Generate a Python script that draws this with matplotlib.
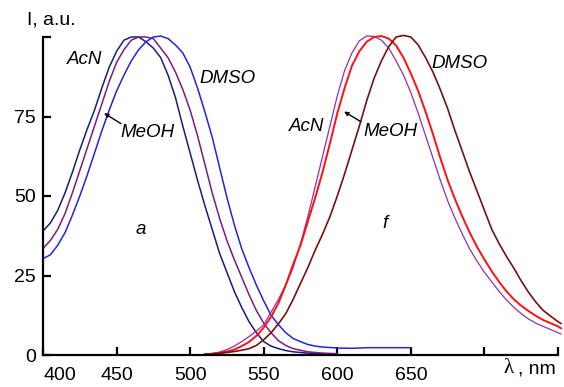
import matplotlib
matplotlib.use("Agg")
import matplotlib.pyplot as plt

# absorption (left group), 400-600 nm (DMSO extends to 650)
wl_abs = [400, 405, 410, 415, 420, 425, 430, 435, 440, 445, 450, 455, 460, 465,
          470, 475, 480, 485, 490, 495, 500, 505, 510, 515, 520, 525, 530, 535,
          540, 545, 550, 555, 560, 565, 570, 580, 590, 600]
abs_acn = [39, 41.5, 45.5, 51, 57.5, 64.5, 71, 77, 84, 90.5, 95.5, 99, 100, 100,
           98.5, 96.5, 93.5, 88, 81, 72, 63.5, 55, 47, 39.5, 32, 26, 20, 15,
           10.5, 7, 4.2, 2.8, 2, 1.4, 1, 0.6, 0.4, 0.3]
abs_meoh = [33.5, 36, 39.5, 44.5, 51, 58, 65, 72, 79, 86, 92, 96, 99, 100,
            100, 99.5, 96.5, 93.5, 89, 83.5, 77, 69, 60, 51, 43, 36, 30, 24.5,
            19, 14, 10, 7, 4.5, 3, 2, 1, 0.6, 0.4]
wl_abs_dmso = [400, 405, 410, 415, 420, 425, 430, 435, 440, 445, 450, 455, 460,
               465, 470, 475, 480, 485, 490, 495, 500, 505, 510, 515, 520, 525,
               530, 535, 540, 545, 550, 555, 560, 565, 570, 575, 580, 585, 590,
               600, 610, 620, 630, 640, 650]
abs_dmso = [30.3, 31.5, 34.5, 38.5, 44, 50, 56.5, 63.5, 70.5, 77, 83, 88, 92.5,
            96, 98.5, 100, 100.3, 99.5, 97.5, 95, 90.5, 84, 76.5, 68.5, 59, 49.5,
            41, 33.5, 27.5, 22, 17, 12.5, 9.5, 7, 5.2, 4.2, 3.3, 2.8, 2.5,
            2.2, 2.1, 2.3, 2.3, 2.3, 2.3]

# fluorescence (right group), 510-752 nm
wl_fl = [510, 515, 520, 525, 530, 535, 540, 545, 550, 555, 560, 565, 570, 575,
         580, 585, 590, 595, 600, 605, 610, 615, 620, 625, 630, 635, 640, 645,
         650, 655, 660, 665, 670, 675, 680, 685, 690, 695, 700, 705, 710, 715,
         720, 725, 730, 735, 740, 745, 750, 752]
fl_acn = [0.3, 0.5, 0.9, 1.7, 2.8, 4.2, 5.8, 7.5, 9.5, 13.5, 17.5, 22, 27.5, 35,
          43.5, 53, 62.5, 72, 81.5, 89.5, 95, 98.8, 100.3, 100.2, 99, 96.5, 92.5, 88,
          82.5, 76, 69, 62, 55, 48.5, 43, 38, 33.3, 29.5, 26, 23, 20, 17.3,
          15, 13, 11.3, 10, 9, 8, 7, 6.6]
fl_meoh = [0.2, 0.4, 0.7, 1.1, 1.7, 2.8, 4.1, 6, 8.6, 12, 16.3, 22, 28.5, 34.5,
           42, 49.5, 57.5, 66.5, 76, 84, 91, 95.5, 98.5, 100, 100.3, 99.5, 97.3, 93.5,
           88.5, 83, 76.5, 69.5, 62, 55, 49, 43.5, 38.5, 34, 30, 26.3, 23, 20,
           17.5, 15.5, 13.8, 12.3, 11, 10, 9, 8.4]
fl_dmso = [0.2, 0.3, 0.5, 0.8, 1.1, 1.5, 2, 3, 4.8, 7, 9.8, 13, 17.5, 22.5,
           27.5, 33, 38, 43.5, 50, 57, 64.5, 72, 80, 87, 92.5, 97, 100, 100.5,
           100, 97.5, 93.5, 89, 83.5, 77.5, 70.5, 64, 57.5, 51.5, 45.5, 39.5, 35, 31,
           27.3, 23.3, 19.7, 16.6, 14, 12.2, 10.5, 9.9]

x_ticks = [400, 450, 500, 550, 600, 650, 700, 750]
x_tick_labels = ["400", "450", "500", "550", "600", "650", "", ""]
y_ticks = [0, 25, 50, 75, 100]
y_tick_labels = ["0", "25", "50", "75", ""]

plt.rcParams["font.family"] = ["Liberation Sans", "DejaVu Sans"]

fig = plt.figure(figsize=(5.64, 3.87), dpi=100)
ax = fig.add_axes([43 / 564, 1 - 355 / 387, (558 - 43) / 564, (355 - 37) / 387])

ax.plot(wl_abs, abs_acn, color="#1c1c78", lw=1.1, clip_on=False)
ax.plot(wl_abs, abs_meoh, color="#7e1a80", lw=1.1, clip_on=False)
ax.plot(wl_abs_dmso, abs_dmso, color="#2424dc", lw=1.1, clip_on=False)
ax.plot(wl_fl, fl_acn, color="#9030aa", lw=0.9, clip_on=False)
ax.plot(wl_fl, fl_meoh, color="#ff1010", lw=1.4, clip_on=False)
ax.plot(wl_fl, fl_dmso, color="#741212", lw=1.2, clip_on=False)

ax.set_xlim(400, 750)
ax.set_ylim(0, 100)
ax.spines["top"].set_visible(False)
ax.spines["right"].set_visible(False)
ax.spines["left"].set_linewidth(1.6)
ax.spines["bottom"].set_linewidth(1.6)
ax.set_xticks(x_ticks)
ax.set_xticklabels(x_tick_labels)
ax.set_yticks(y_ticks)
ax.set_yticklabels(y_tick_labels)
ax.tick_params(direction="in", length=6, width=1.6, labelsize=14)
ax.tick_params(axis="x", pad=9)
ax.tick_params(axis="y", pad=5)
ax.get_xticklabels()[0].set_horizontalalignment("left")

lbl = dict(fontsize=13.5, style="italic", ha="center", va="center")
ax.text(428.5, 92.8, "AcN", **lbl)
ax.text(471, 70, "MeOH", **lbl)
ax.text(525.7, 87.1, "DMSO", **lbl)
ax.text(466.6, 39.6, "a", **lbl)
ax.text(579.4, 71.7, "AcN", **lbl)
ax.text(636, 70.4, "MeOH", **lbl)
ax.text(683.4, 91.8, "DMSO", **lbl)
ax.text(632.4, 41.2, "f", **lbl)

arrow = dict(arrowstyle="-|>", lw=1.0, color="black", mutation_scale=6)
ax.annotate("", xy=(439.9, 76.5), xytext=(454.6, 72.3), arrowprops=arrow)
ax.annotate("", xy=(603, 77), xytext=(617.7, 72.9), arrowprops=arrow)

fig.text(27 / 564, 1 - 20 / 387, "I, a.u.", fontsize=14, ha="left", va="center")
fig.text(504 / 564, 1 - 373 / 387, "λ", fontsize=15, family="Liberation Serif",
         ha="left", va="baseline")
fig.text(518 / 564, 1 - 373 / 387, ", nm", fontsize=14, ha="left", va="baseline")

fig.savefig("out.png", dpi=100)
